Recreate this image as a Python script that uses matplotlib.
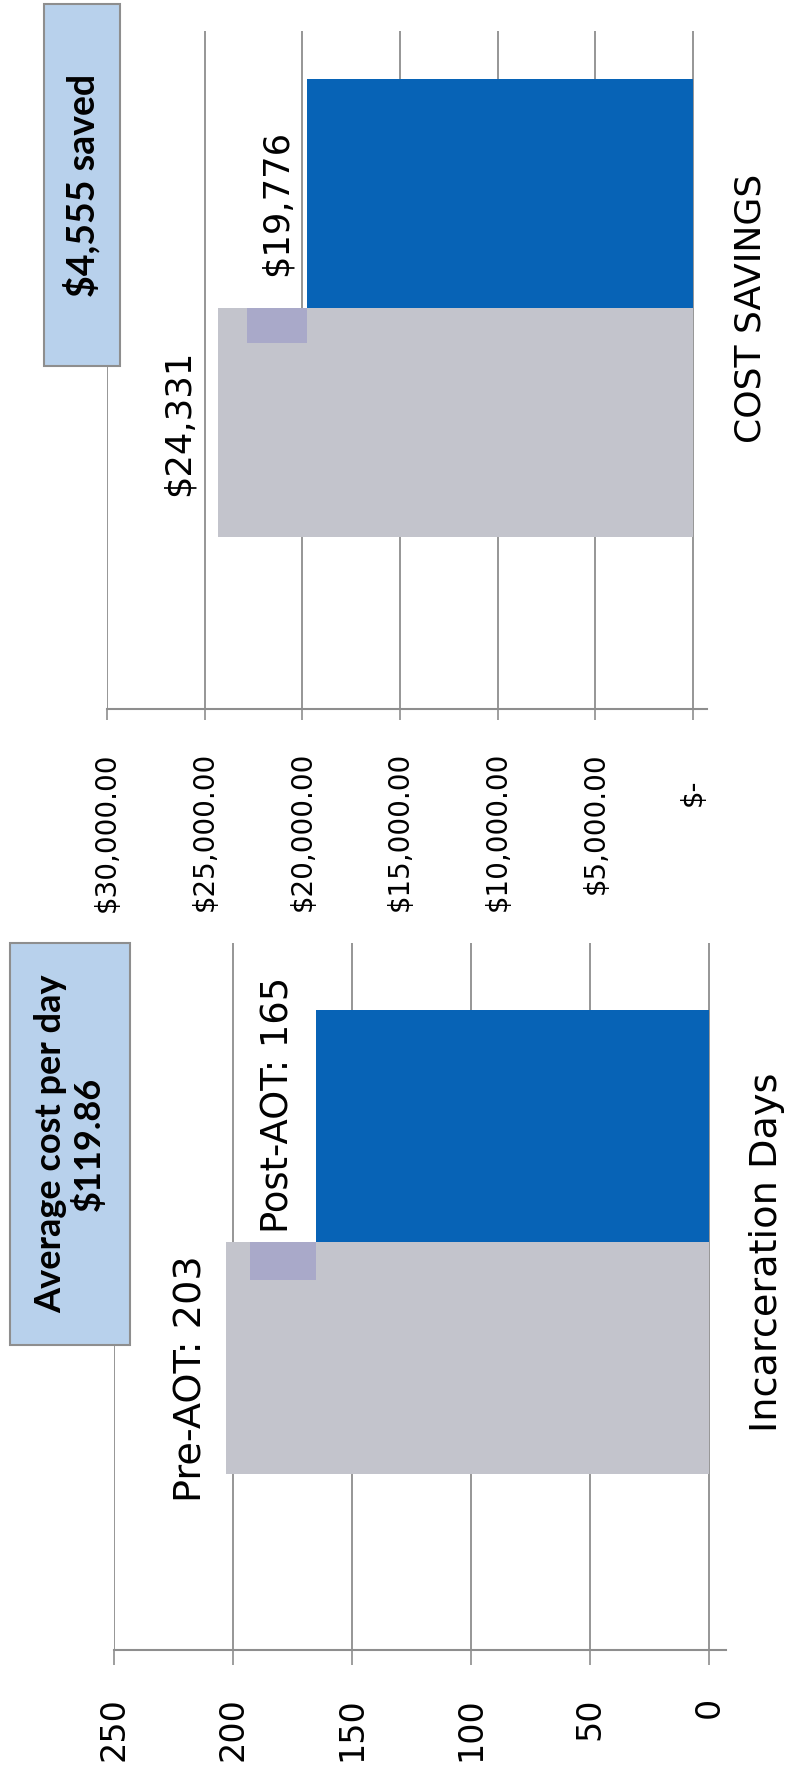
import matplotlib
matplotlib.use("Agg")
import matplotlib.pyplot as plt
from matplotlib.patches import Rectangle

plt.rcParams['font.family'] = ['DejaVu Sans']

# data
phases = ['Pre-AOT', 'Post-AOT']
days = [203, 165]
costs = [24331, 19776]
day_ticks = [250, 200, 150, 100, 50, 0]
day_tick_labels = ['250', '200', '150', '100', '50', '0']
cost_ticks = [30000, 25000, 20000, 15000, 10000, 5000, 0]
cost_tick_labels = ['$30,000.00', '$25,000.00', '$20,000.00', '$15,000.00',
                    '$10,000.00', '$5,000.00', '$-']
day_labels = ['Pre-AOT: 203', 'Post-AOT: 165']
cost_labels = ['$24,331', '$19,776']
cost_box_text = '$4,555 saved'
day_box_text = 'Average cost per day\n$119.86'

GRAY = '#C3C4CC'
BLUE = '#0763B6'
BOX = '#B8D1EC'
LINE = '#8E8E8E'
KEY = '#A9A9C9'

W, H = 791, 1773
fig = plt.figure(figsize=(W / 100, H / 100), dpi=100)


def px_axes(x0, y0, x1, y1):
    return fig.add_axes([x0 / W, 1 - y1 / H, (x1 - x0) / W, (y1 - y0) / H])


def px_box(x0, y0, x1, y1, text, size):
    # call-out box, drawn over the axes in figure pixels
    fig.add_artist(Rectangle((x0 / W, 1 - y1 / H), (x1 - x0) / W, (y1 - y0) / H,
                             transform=fig.transFigure, facecolor=BOX,
                             edgecolor=LINE, linewidth=1.5, zorder=5))
    fig.text((x0 + x1) / 2 / W, 1 - (y0 + y1) / 2 / H, text, rotation=90,
             ha='center', va='center', fontsize=size, fontweight='bold',
             family=['Lato', 'DejaVu Sans'], multialignment='center',
             linespacing=1.15, zorder=6)


def style(ax, ticks, labels, lim, ylim, tick_len, lab_size, pad):
    ax.set_xlim(*lim)
    ax.set_ylim(*ylim)
    ax.set_xticks(ticks)
    ax.set_xticklabels(labels, rotation=90, fontsize=lab_size)
    ax.set_yticks([])
    for s in ['top', 'left', 'right']:
        ax.spines[s].set_visible(False)
    ax.spines['bottom'].set_color(LINE)
    ax.spines['bottom'].set_linewidth(1.5)
    ax.tick_params(axis='x', direction='out', length=tick_len, width=1.2,
                   color=LINE, pad=pad)
    ax.xaxis.grid(True, color=LINE, linewidth=1.3)
    ax.set_axisbelow(True)


# top: cost savings
ax1 = px_axes(107, 31, 707, 709)
ax1.barh([0, 1], costs, height=1.0, color=[GRAY, BLUE], zorder=2)
style(ax1, cost_ticks, cost_tick_labels, (30000, -717), (-1.25, 1.71), 8, 20, 23)
for t in ax1.xaxis.get_major_ticks():
    if t.label1.get_text() == '$-':
        t.set_pad(42)
ax1.add_patch(Rectangle((costs[1], 0.35), 3060, 0.15, facecolor=KEY,
                        edgecolor='none', zorder=3))
ax1.annotate(cost_labels[0], (costs[0], 0), xytext=(-28, 0), textcoords='offset points',
             rotation=90, ha='center', va='center', fontsize=25.5)
ax1.annotate(cost_labels[1], (costs[1], 1), xytext=(-22, -6.5), textcoords='offset points',
             rotation=90, ha='center', va='center', fontsize=25.5)
ax1.text(1.072, 0.591, 'COST SAVINGS', transform=ax1.transAxes, rotation=90,
         ha='center', va='center', fontsize=26)
px_box(44, 4, 120, 366, cost_box_text, 27)

# bottom: incarceration days
ax2 = px_axes(114, 943, 726, 1650)
ax2.barh([0, 1], days, height=1.0, color=[GRAY, BLUE], zorder=2)
style(ax2, day_ticks, day_tick_labels, (250, -7), (-1.26, 1.79), 11, 24, 23)
ax2.add_patch(Rectangle((days[1], 0.336), 28, 0.164, facecolor=KEY,
                        edgecolor='none', zorder=3))
ax2.annotate(day_labels[0], (days[0], 0), xytext=(-25, -14.8), textcoords='offset points',
             rotation=90, ha='center', va='center', fontsize=27.5)
ax2.annotate(day_labels[1], (days[1], 1), xytext=(-28, 15), textcoords='offset points',
             rotation=90, ha='center', va='center', fontsize=26.6)
ax2.text(1.067, 0.563, 'Incarceration Days', transform=ax2.transAxes, rotation=90,
         ha='center', va='center', fontsize=27.5)
px_box(10, 943, 130, 1345, day_box_text, 26)

fig.savefig('out.png', dpi=100, facecolor='white')
